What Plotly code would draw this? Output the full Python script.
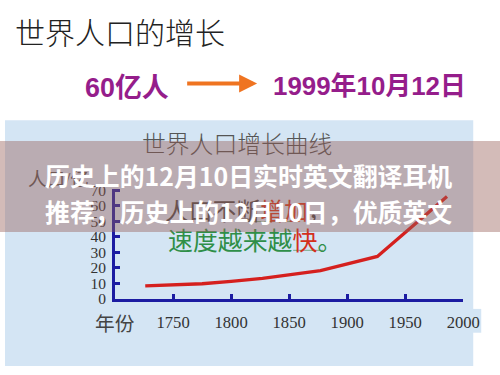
import plotly.graph_objects as go

# ---- data (population in 亿人) ----
years = [1726, 1775, 1800, 1827, 1877, 1926, 1986]
population = [8.5, 9.8, 11.4, 13.3, 18.2, 27.4, 66.0]
x_ticks = [1750, 1800, 1850, 1900, 1950, 2000]
y_ticks = [0, 10, 20, 30, 40, 50, 60, 70]

W, H = 500, 375
# target positions are given in picture pixels; the capture maps the page
# slightly (about 0.966 scale, ~6px down), so compensate for it here.
SX, SY, OY = 0.9655, 0.967, 5.9
def px(x):
    return (x / SX) / W
def py(y):
    return 1 - ((y - OY) / SY) / H
def fs(s):
    return round(s / SX, 1)

SERIF = "Liberation Serif, Noto Sans CJK SC, serif"
CJK = "Noto Sans CJK SC, sans-serif"
NAVY = "#1c1ca2"
PURPLE = "#951d8b"

fig = go.Figure()
fig.add_trace(go.Scatter(
    x=years, y=population, mode="lines",
    line=dict(color="#d5201e", width=3.3),
    showlegend=False, hoverinfo="skip",
))

shapes = [
    # light blue photo background of the chart slide
    dict(type="rect", xref="paper", yref="paper", x0=px(5), x1=px(473), y0=max(py(369), 0.003), y1=py(120),
         fillcolor="#d4e5f4", line=dict(width=0), layer="below"),
    dict(type="rect", xref="paper", yref="paper", x0=px(470), x1=px(481), y0=py(334), y1=py(310),
         fillcolor="#d4e5f4", line=dict(width=0), layer="below"),
    # underlines
    dict(type="line", xref="paper", yref="paper", x0=px(293), x1=px(323), y0=py(251), y1=py(251),
         line=dict(color="#7aa88a", width=1), layer="above"),
    dict(type="line", xref="paper", yref="paper", x0=px(248), x1=px(300), y0=py(222), y1=py(222),
         line=dict(color="#7aa88a", width=1), layer="above"),
]

annotations = [
    dict(text="世界人口的增长", x=px(13), y=py(30), xanchor="left", yanchor="middle",
         font=dict(family=CJK, size=fs(29), color="#222222", weight=300)),
    dict(text="<b>60亿人</b>", x=px(83), y=py(87), xanchor="left", yanchor="middle",
         font=dict(family="Liberation Sans, " + CJK, size=fs(26), color=PURPLE)),
    dict(text="<b>1999年10月12日</b>", x=px(271), y=py(85), xanchor="left", yanchor="middle",
         font=dict(family="Liberation Sans, " + CJK, size=fs(25), color=PURPLE)),
    dict(text="", x=px(257), y=py(83), showarrow=True, ax=-69 / SX, ay=0,
         arrowcolor="#ef7421", arrowwidth=4, arrowhead=2, arrowsize=0.9),
    dict(text="世界人口增长曲线", x=px(140), y=py(145), xanchor="left", yanchor="middle",
         font=dict(family=SERIF, size=fs(23), color="#555555", weight=300)),
    dict(text="人口/亿", x=px(26), y=py(180), xanchor="left", yanchor="middle",
         font=dict(family=SERIF, size=fs(18), color="#555555")),
    dict(text="人口不断<span style='color:#d03a20'>增加</span>，", x=px(163), y=py(210),
         xanchor="left", yanchor="middle",
         font=dict(family=CJK, size=fs(23), color="#4a4a4a")),
    dict(text="速度越来越<span style='color:#d3301c'>快</span>。", x=px(166), y=py(240),
         xanchor="left", yanchor="middle",
         font=dict(family=CJK, size=fs(24), color="#2f8f48")),
    dict(text="年份", x=px(93), y=py(325), xanchor="left", yanchor="middle",
         font=dict(family=SERIF, size=fs(19), color="#444444")),
    # banner overlay
    dict(text=" ", x=0, y=py(187), xanchor="left", yanchor="middle", width=W, height=88 / SY,
         bgcolor="rgba(150,92,86,0.42)", borderpad=0, borderwidth=0),
    dict(text="<b>历史上的12月10日实时英文翻译耳机</b>",
         x=px(43), y=py(175), xanchor="left", yanchor="middle",
         font=dict(family=CJK, size=fs(24), color="white")),
    dict(text="<b>推荐，历史上的12月10日，优质英文</b>",
         x=px(43), y=py(211), xanchor="left", yanchor="middle",
         font=dict(family=CJK, size=fs(24), color="white")),
]
for a in annotations:
    a.setdefault("xref", "paper")
    a.setdefault("yref", "paper")
    a.setdefault("showarrow", False)

fig.update_layout(
    width=W, height=H,
    margin=dict(l=0, r=0, t=0, b=0),
    paper_bgcolor="white",
    plot_bgcolor="rgba(0,0,0,0)",
    shapes=shapes,
    annotations=annotations,
    xaxis=dict(
        domain=[px(115), px(463)], range=[1700, 2000],
        showline=True, linecolor=NAVY, linewidth=3,
        ticks="inside", ticklen=5, tickwidth=3, tickcolor=NAVY,
        tickvals=x_ticks, showgrid=False, zeroline=False,
        tickfont=dict(family=SERIF, size=fs(16), color="#333333"),
        ticklabelstandoff=6,
    ),
    yaxis=dict(
        domain=[py(300), py(189)], range=[0, 71],
        showline=True, linecolor=NAVY, linewidth=3,
        ticks="inside", ticklen=5, tickwidth=3, tickcolor=NAVY,
        tickvals=y_ticks, showgrid=False, zeroline=False,
        tickfont=dict(family=SERIF, size=fs(15), color="#333333"),
        ticklabelstandoff=3,
    ),
)

fig.write_html("out.html", config={"displayModeBar": False},
               post_script="document.body.style.margin='0px';document.body.style.overflow='hidden';")
